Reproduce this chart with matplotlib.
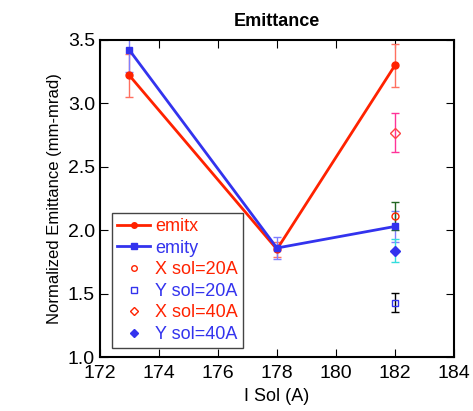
import matplotlib
matplotlib.use("Agg")
import matplotlib.pyplot as plt
from matplotlib.lines import Line2D

plt.rcParams['font.family'] = ['Liberation Sans', 'DejaVu Sans']

# main scans
isol = [173, 178, 182]
emitx = [3.22, 1.85, 3.30]
emitx_err = [0.17, 0.06, 0.17]
emity = [3.42, 1.86, 2.03]
emity_err = [0.17, 0.09, 0.12]

# extra points at 182 A
x_extra = 182
xsol20, xsol20_err = 2.11, 0.11
ysol20, ysol20_err = 1.43, 0.075
xsol40, xsol40_err = 2.77, 0.15
ysol40, ysol40_err = 1.84, 0.09

red = '#ff2200'
blue = '#3333ee'

fig = plt.figure(figsize=(4.73, 4.11), dpi=100)
ax = fig.add_axes([0.211, 0.131, 0.749, 0.772])

ax.errorbar(isol, emitx, yerr=emitx_err, color=red, ecolor='#ff7060',
            lw=2, marker='o', ms=5, capsize=3, elinewidth=1)
ax.errorbar(isol, emity, yerr=emity_err, color=blue, ecolor='#8080ff',
            lw=2, marker='s', ms=5, capsize=3, elinewidth=1)
ax.errorbar([x_extra], [xsol20], yerr=[xsol20_err], color=red, ecolor='#226622',
            ls='none', marker='o', mfc='none', ms=5, capsize=3, elinewidth=1)
ax.errorbar([x_extra], [ysol20], yerr=[ysol20_err], color=blue, ecolor='black',
            ls='none', marker='s', mfc='none', ms=5, capsize=3, elinewidth=1)
ax.errorbar([x_extra], [xsol40], yerr=[xsol40_err], color='#ff4444', ecolor='#ff3399',
            ls='none', marker='D', mfc='none', ms=5, capsize=3, elinewidth=1)
ax.errorbar([x_extra], [ysol40], yerr=[ysol40_err], color=blue, ecolor='#33dddd',
            ls='none', marker='D', ms=5, capsize=3, elinewidth=1)

ax.set_xlim(172, 184)
ax.set_ylim(1.0, 3.5)
ax.set_xticks(range(172, 185, 2))
ax.set_yticks([1.0, 1.5, 2.0, 2.5, 3.0, 3.5])
ax.tick_params(direction='in', top=True, right=True, length=6, labelsize=14)
ax.tick_params(axis='x', pad=6)
for s in ax.spines.values():
    s.set_linewidth(1.5)

ax.set_title('Emittance', fontsize=13, fontweight='bold', pad=10)
ax.set_xlabel('I Sol (A)', fontsize=13)
ax.set_ylabel('Normalized Emittance (mm-mrad)', fontsize=12)

# legend without error bars, like the original
handles = [
    Line2D([], [], color=red, lw=2, marker='o', ms=4),
    Line2D([], [], color=blue, lw=2, marker='s', ms=4),
    Line2D([], [], color=red, ls='none', marker='o', mfc='none', ms=4),
    Line2D([], [], color=blue, ls='none', marker='s', mfc='none', ms=4),
    Line2D([], [], color=red, ls='none', marker='D', mfc='none', ms=4),
    Line2D([], [], color=blue, ls='none', marker='D', ms=4),
]
labels = ['emitx', 'emity', 'X sol=20A', 'Y sol=20A', 'X sol=40A', 'Y sol=40A']
leg = ax.legend(handles, labels, loc='lower left', bbox_to_anchor=(0.034, 0.028),
                borderaxespad=0, fontsize=13,
                fancybox=False, edgecolor='#444444', framealpha=1,
                handlelength=1.8, handletextpad=0.3, borderpad=0.3, labelspacing=0.25)
text_colors = [red, blue, red, blue, red, blue]
for t, c in zip(leg.get_texts(), text_colors):
    t.set_color(c)

fig.savefig('out.png', dpi=100)
